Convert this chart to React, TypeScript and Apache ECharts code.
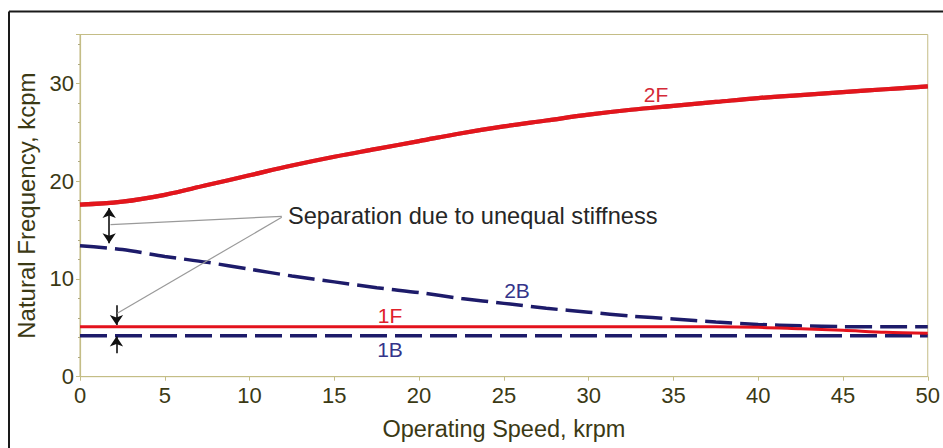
import React, { useEffect, useRef } from "react";
import * as echarts from "echarts";

const speeds = [0, 2.5, 5, 7.5, 10, 12.5, 15, 17.5, 20, 22.5, 25, 27.5, 30, 32.5, 35, 37.5, 40, 42.5, 45, 47.5, 50];
const f2 = [17.6, 17.9, 18.6, 19.6, 20.6, 21.6, 22.5, 23.3, 24.1, 24.9, 25.6, 26.2, 26.8, 27.3, 27.7, 28.1, 28.5, 28.8, 29.1, 29.4, 29.7];
const b2 = [13.4, 13.0, 12.3, 11.7, 11.0, 10.3, 9.7, 9.1, 8.6, 8.0, 7.5, 7.0, 6.6, 6.2, 5.9, 5.6, 5.35, 5.2, 5.12, 5.1, 5.1];
const f1 = [5.1, 5.1, 5.1, 5.1, 5.1, 5.1, 5.1, 5.1, 5.1, 5.1, 5.1, 5.1, 5.1, 5.1, 5.1, 5.1, 5.05, 4.9, 4.75, 4.55, 4.45];
const b1 = [4.2, 4.2, 4.2, 4.2, 4.2, 4.2, 4.2, 4.2, 4.2, 4.2, 4.2, 4.2, 4.2, 4.2, 4.2, 4.2, 4.2, 4.2, 4.2, 4.2, 4.2];

const xTitle = "Operating Speed, krpm";
const yTitle = "Natural Frequency, kcpm";
const note = "Separation due to unequal stiffness";

const RED = "#e3121c";
const NAVY = "#1d1b6a";
const OLIVE_TEXT = "#3b3914";
const AXIS = "#c4bd86";
const FONT = "'Liberation Sans', Arial, Helvetica, sans-serif";

export default function App() {
  const ref = useRef<HTMLDivElement>(null);
  useEffect(() => {
    if (!ref.current) return;
    const chart = echarts.init(ref.current, undefined, { renderer: "svg" });
    const pts = (ys: number[]) => speeds.map((s, i) => [s, ys[i]]);
    const blackArrow = { color: "#111", width: 1.6, type: "solid" as const };
    const grayLine = { color: "#9a9a9a", width: 1.2, type: "solid" as const };
    chart.setOption({
      animation: false,
      backgroundColor: "#ffffff",
      textStyle: { fontFamily: FONT },
      grid: { left: 80, top: 34.5, right: 10.5, bottom: 71.3, show: true, borderColor: AXIS, borderWidth: 1 },
      xAxis: {
        type: "value",
        min: 0,
        max: 50,
        interval: 5,
        name: xTitle,
        nameLocation: "middle",
        nameGap: 40,
        nameTextStyle: { color: OLIVE_TEXT, fontSize: 23.5, fontFamily: FONT },
        axisLine: { show: true, lineStyle: { color: AXIS, width: 1.2 } },
        axisTick: { show: true, length: 4, lineStyle: { color: AXIS } },
        axisLabel: { color: OLIVE_TEXT, fontSize: 22, margin: 8, fontFamily: FONT },
        splitLine: { show: false },
      },
      yAxis: {
        type: "value",
        min: 0,
        max: 35,
        interval: 10,
        name: yTitle,
        nameLocation: "middle",
        nameGap: 42,
        nameTextStyle: { color: OLIVE_TEXT, fontSize: 24, fontFamily: FONT },
        axisLine: { show: true, lineStyle: { color: AXIS, width: 1.2 } },
        axisTick: { show: true, length: 4, lineStyle: { color: AXIS } },
        minorTick: { show: true, splitNumber: 5, length: 2, lineStyle: { color: "#b0aa80" } },
        axisLabel: { color: OLIVE_TEXT, fontSize: 22, margin: 6, showMaxLabel: false, fontFamily: FONT },
        splitLine: { show: false },
      },
      series: [
        {
          name: "1B",
          type: "line",
          data: pts(b1),
          symbol: "none",
          lineStyle: { color: NAVY, width: 3.5, type: [27, 8] },
          z: 2,
          markLine: {
            silent: true,
            animation: false,
            symbol: ["none", "none"],
            symbolSize: 10,
            label: { show: false },
            data: [
              [
                { coord: [1.72, 17.25], symbol: "arrow", lineStyle: blackArrow },
                { coord: [1.72, 13.65], symbol: "arrow" },
              ],
              [
                { coord: [2.15, 7.3], symbol: "none", lineStyle: blackArrow },
                { coord: [2.15, 5.3], symbol: "arrow" },
              ],
              [
                { coord: [2.15, 2.4], symbol: "none", lineStyle: blackArrow },
                { coord: [2.15, 4.1], symbol: "arrow" },
              ],
              [
                { coord: [11.9, 16.4], symbol: "none", lineStyle: grayLine },
                { coord: [1.8, 15.55], symbol: "none" },
              ],
              [
                { coord: [11.9, 16.3], symbol: "none", lineStyle: grayLine },
                { coord: [2.2, 6.5], symbol: "none" },
              ],
            ],
          },
        },
        {
          name: "2B",
          type: "line",
          data: pts(b2),
          symbol: "none",
          smooth: 0.3,
          lineStyle: { color: NAVY, width: 3.5, type: [27, 8] },
          z: 2,
        },
        {
          name: "1F",
          type: "line",
          data: pts(f1),
          symbol: "none",
          smooth: 0.3,
          lineStyle: { color: RED, width: 3 },
          z: 3,
        },
        {
          name: "2F",
          type: "line",
          data: pts(f2),
          symbol: "none",
          smooth: 0.4,
          lineStyle: { color: RED, width: 4.2, shadowColor: "rgba(80,0,0,0.6)", shadowBlur: 1 },
          z: 3,
        },
      ],
      graphic: [
        { type: "line", shape: { x1: 9, y1: 11.5, x2: 943, y2: 11.5 }, style: { stroke: "#1a1a1a", lineWidth: 2 } },
        { type: "line", shape: { x1: 9, y1: 11.5, x2: 9, y2: 448 }, style: { stroke: "#1a1a1a", lineWidth: 2 } },
        {
          type: "text",
          x: 288,
          y: 216,
          style: { text: note, fill: "#262626", font: `23.6px ${FONT}`, textVerticalAlign: "middle", textAlign: "left" },
        },
        { type: "text", x: 656, y: 94, style: { text: "2F", fill: "#d42a38", font: `21px ${FONT}`, textAlign: "center", textVerticalAlign: "middle" } },
        { type: "text", x: 517, y: 290, style: { text: "2B", fill: "#34348a", font: `21px ${FONT}`, textAlign: "center", textVerticalAlign: "middle" } },
        { type: "text", x: 390, y: 315, style: { text: "1F", fill: "#e0202a", font: `21px ${FONT}`, textAlign: "center", textVerticalAlign: "middle" } },
        { type: "text", x: 390, y: 349, style: { text: "1B", fill: "#34348a", font: `21px ${FONT}`, textAlign: "center", textVerticalAlign: "middle" } },
      ],
    });
    return () => chart.dispose();
  }, []);
  return <div ref={ref} style={{ position: "fixed", left: 0, top: 0, width: 943, height: 448, background: "#fff" }} />;
}
